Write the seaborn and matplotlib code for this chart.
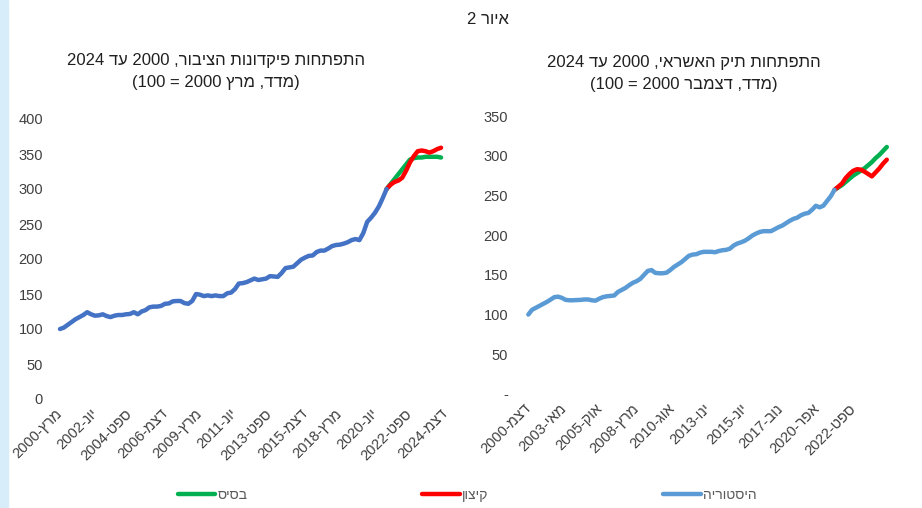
import re
import numpy as np
import pandas as pd
import matplotlib
matplotlib.use("Agg")
import matplotlib.pyplot as plt
import seaborn as sns
from matplotlib.patches import Rectangle

# פיקדונות הציבור - רבעוני מ-מרץ 2000
dep_hist = [100, 102, 106, 110, 114, 117, 120, 124, 121, 119, 119.5, 121, 118.5, 117, 119, 120,
            120, 121, 121.5, 124, 121, 125, 127, 131, 132, 132, 133, 136, 136.5, 139.5, 140, 140,
            137, 136, 140, 150, 149, 147, 148, 147, 148, 147, 147, 151, 152, 157, 165, 165.5,
            167, 169.5, 172, 170, 171, 172, 175.5, 175, 174.5, 180, 187, 188, 189, 194, 199,
            202, 204.5, 205, 210, 212, 212, 215, 218.5, 220, 220.5, 222, 224, 227, 228.5, 227,
            237, 253, 259, 266, 275, 287, 300]
dep_base = [300, 307, 314, 321, 328, 335, 342, 344, 345, 345, 346, 346, 346, 346, 345]
dep_extreme = [300, 306, 310, 312, 316, 326, 338, 347, 354, 355, 354, 352, 354, 357, 359]

# תיק האשראי - רבעוני מ-דצמבר 2000
crd_hist = [100, 106, 108.5, 111, 113.5, 116, 119, 122, 122.5, 121, 118.5, 118, 118, 118.3, 118.5,
            119, 119, 118, 117.5, 120, 122, 123, 123.5, 124, 128.5, 131, 133.5, 137, 140, 142,
            145, 150, 155, 156, 152.5, 152, 152, 152.7, 156, 160, 163, 166, 170, 174, 175.5,
            176, 178, 179, 179, 179, 178.5, 180, 181, 181.5, 183, 187, 189.5, 191, 193, 196,
            199.5, 202, 204, 205, 205, 205, 207.5, 210, 212, 215, 218, 220.5, 222, 225, 227,
            228, 232, 237, 235, 237, 243, 249, 257]
crd_base = [257, 260, 263, 267, 271, 275, 278, 281, 284, 288, 292, 297, 301, 306, 311]
crd_extreme = [257, 261, 265, 272, 277, 281, 283, 282.5, 280, 277, 274, 279, 284, 290, 295]

left_ticks = ["מרץ-2000", "יונ-2002", "ספט-2004", "דצמ-2006", "מרץ-2009", "יונ-2011",
              "ספט-2013", "דצמ-2015", "מרץ-2018", "יונ-2020", "ספט-2022", "דצמ-2024"]
right_ticks = ["דצמ-2000", "מאי-2003", "אוק-2005", "מרץ-2008", "אוג-2010", "ינו-2013",
               "יונ-2015", "נוב-2017", "אפר-2020", "ספט-2022"]
series_names = ["בסיס", "קיצון", "היסטוריה"]


def heb(s):
    # matplotlib אינו מטפל בכיווניות - הופכים לסדר חזותי
    r = s[::-1]
    r = re.sub(r"[0-9]+", lambda m: m.group(0)[::-1], r)
    return r.translate(str.maketrans("()", ")("))


def frame(values, start_q):
    q = np.arange(start_q, start_q + len(values))
    return pd.DataFrame({"month": q * 3, "value": values})


sns.set_style("white")
plt.rcParams["font.family"] = ["Liberation Sans", "DejaVu Sans"]

GREEN, RED = "#00B050", "#FF0000"
TXT = "#404040"

fig = plt.figure(figsize=(9.22, 5.08), dpi=100)
fig.patches.append(Rectangle((0, 0), 8 / 922, 1, transform=fig.transFigure,
                             color="#D7EEFA", zorder=0))

ax1 = fig.add_axes([50 / 922, 109 / 508, 400 / 922, 280 / 508])
ax2 = fig.add_axes([515 / 922, 114 / 508, 385 / 922, 278 / 508])


def draw(ax, hist, base, extreme, blue, ymax, xlim, step, labels):
    n = len(hist) - 1
    sns.lineplot(data=frame(base, n), x="month", y="value", ax=ax, color=GREEN, linewidth=3.2)
    sns.lineplot(data=frame(extreme, n), x="month", y="value", ax=ax, color=RED, linewidth=3.2)
    sns.lineplot(data=frame(hist, 0), x="month", y="value", ax=ax, color=blue, linewidth=3.2)
    ax.set_xlim(*xlim)
    ax.set_ylim(0, ymax)
    ax.set_xlabel("")
    ax.set_ylabel("")
    sns.despine(ax=ax, left=True, bottom=True)
    ax.set_xticks(np.arange(len(labels)) * step)
    ax.set_xticklabels([heb(t) for t in labels], rotation=45, ha="right", va="center",
                       rotation_mode="anchor", fontsize=10.5, color=TXT)
    ax.tick_params(axis="x", length=0, pad=9)
    ax.tick_params(axis="y", length=0, pad=5, labelsize=10.5, labelcolor=TXT)


draw(ax1, dep_hist, dep_base, dep_extreme, "#4472C4", 400, (-7.7, 300.9), 27, left_ticks)
ax1.set_yticks(range(0, 401, 50))

draw(ax2, crd_hist, crd_base, crd_extreme, "#5B9BD5", 350, (-10.7, 298.6), 29, right_ticks)
ax2.set_yticks(range(0, 351, 50))
ax2.set_yticklabels(["-"] + [str(v) for v in range(50, 351, 50)])

fig.text(488 / 922, 1 - 20 / 508, heb("איור 2"), ha="center", va="center", fontsize=12, color="#202020")
fig.text(216 / 922, 1 - 60 / 508, heb("התפתחות פיקדונות הציבור, 2000 עד 2024"),
         ha="center", va="center", fontsize=12, color="#202020")
fig.text(216 / 922, 1 - 83 / 508, heb("(מדד, מרץ 2000 = 100)"),
         ha="center", va="center", fontsize=12, color="#202020")
fig.text(684 / 922, 1 - 62 / 508, heb("התפתחות תיק האשראי, 2000 עד 2024"),
         ha="center", va="center", fontsize=12, color="#202020")
fig.text(684 / 922, 1 - 85 / 508, heb("(מדד, דצמבר 2000 = 100)"),
         ha="center", va="center", fontsize=12, color="#202020")

handles = [ax2.lines[0], ax2.lines[1], ax2.lines[2]]
leg = fig.legend(handles, [heb(s) for s in series_names], ncol=3, loc="center",
                 bbox_to_anchor=(467 / 922, 1 - 495 / 508), frameon=False, fontsize=10,
                 handlelength=2.7, handletextpad=0.15, columnspacing=12.6)
for t in leg.get_texts():
    t.set_color("#595959")

fig.savefig("out.png", dpi=100)
